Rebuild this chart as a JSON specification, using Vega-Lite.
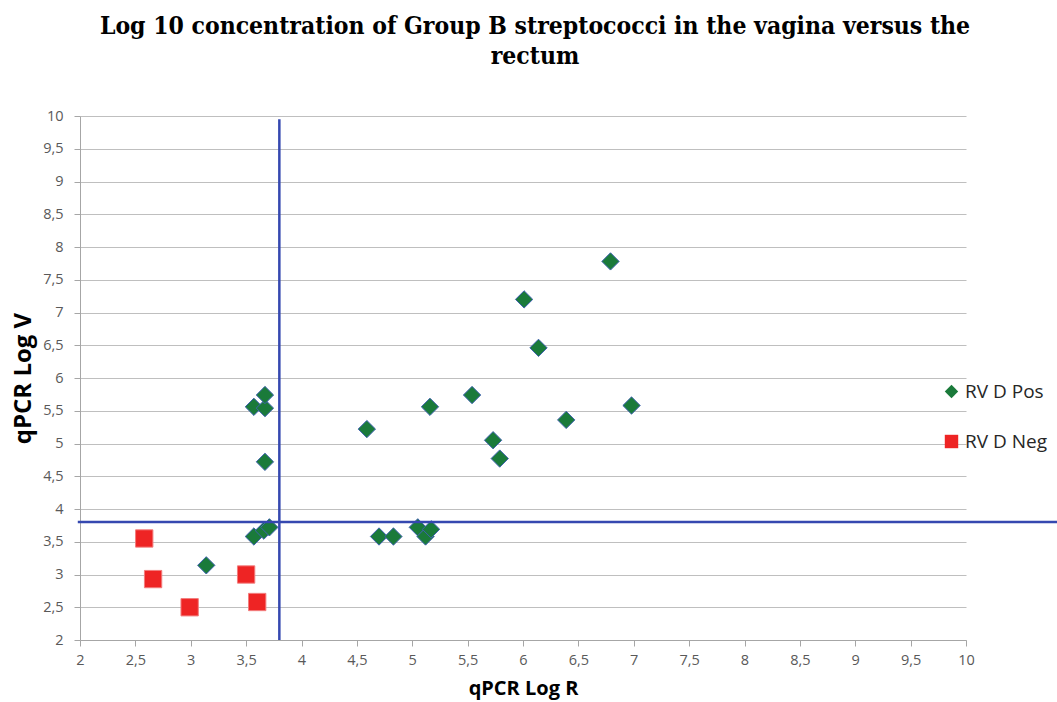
{
  "$schema": "https://vega.github.io/schema/vega-lite/v6.json",
  "autosize": {"type": "none"},
  "padding": {"left": 80, "top": 116, "right": 91, "bottom": 62},
  "width": 886,
  "height": 524,
  "background": "white",
  "title": {
    "text": ["Log 10 concentration of Group B streptococci in the vagina versus the", "rectum"],
    "font": "DejaVu Serif Condensed, DejaVu Serif",
    "fontSize": 24.5,
    "fontWeight": "bold",
    "color": "#000000",
    "lineHeight": 30,
    "anchor": "middle",
    "dx": 12,
    "offset": 39
  },
  "datasets": {
    "points": [
      {"R": 2.58, "V": 3.55, "series": "RV D Neg"},
      {"R": 2.66, "V": 2.93, "series": "RV D Neg"},
      {"R": 2.99, "V": 2.5, "series": "RV D Neg"},
      {"R": 3.5, "V": 3.0, "series": "RV D Neg"},
      {"R": 3.6, "V": 2.58, "series": "RV D Neg"},
      {"R": 3.14, "V": 3.14, "series": "RV D Pos"},
      {"R": 3.57, "V": 3.58, "series": "RV D Pos"},
      {"R": 3.66, "V": 3.67, "series": "RV D Pos"},
      {"R": 3.71, "V": 3.72, "series": "RV D Pos"},
      {"R": 3.67, "V": 4.72, "series": "RV D Pos"},
      {"R": 3.57, "V": 5.56, "series": "RV D Pos"},
      {"R": 3.67, "V": 5.54, "series": "RV D Pos"},
      {"R": 3.67, "V": 5.74, "series": "RV D Pos"},
      {"R": 4.59, "V": 5.22, "series": "RV D Pos"},
      {"R": 4.7, "V": 3.58, "series": "RV D Pos"},
      {"R": 4.83, "V": 3.58, "series": "RV D Pos"},
      {"R": 5.05, "V": 3.72, "series": "RV D Pos"},
      {"R": 5.12, "V": 3.58, "series": "RV D Pos"},
      {"R": 5.17, "V": 3.69, "series": "RV D Pos"},
      {"R": 5.16, "V": 5.56, "series": "RV D Pos"},
      {"R": 5.54, "V": 5.74, "series": "RV D Pos"},
      {"R": 5.73, "V": 5.05, "series": "RV D Pos"},
      {"R": 5.79, "V": 4.77, "series": "RV D Pos"},
      {"R": 6.01, "V": 7.2, "series": "RV D Pos"},
      {"R": 6.14, "V": 6.46, "series": "RV D Pos"},
      {"R": 6.39, "V": 5.36, "series": "RV D Pos"},
      {"R": 6.79, "V": 7.78, "series": "RV D Pos"},
      {"R": 6.98, "V": 5.58, "series": "RV D Pos"}
    ],
    "vline": [{"x": 3.8, "y": 2, "y2": 9.95}],
    "hline": [{"y": 3.8, "x": 1.98, "x2": 10.83}]
  },
  "layer": [
    {
      "data": {"name": "points"},
      "mark": {"type": "point", "filled": true, "opacity": 1, "size": 300, "strokeWidth": 1},
      "encoding": {
        "x": {
          "field": "R", "type": "quantitative", "title": "qPCR Log R",
          "scale": {"domain": [2, 10], "nice": false},
          "axis": {
            "values": [2, 2.5, 3, 3.5, 4, 4.5, 5, 5.5, 6, 6.5, 7, 7.5, 8, 8.5, 9, 9.5, 10],
            "tickCount": 20,
            "format": ".2~f",
            "grid": false,
            "labelOverlap": false,
            "labelFlush": false,
            "labelExpr": "replace(datum.label, '.', ',')",
            "labelPadding": 7,
            "titlePadding": 12,
            "titleFontSize": 20
          }
        },
        "y": {
          "field": "V", "type": "quantitative", "title": "qPCR Log V",
          "scale": {"domain": [2, 10], "nice": false},
          "axis": {
            "values": [2, 2.5, 3, 3.5, 4, 4.5, 5, 5.5, 6, 6.5, 7, 7.5, 8, 8.5, 9, 9.5, 10],
            "tickCount": 20,
            "format": ".2~f",
            "grid": true,
            "labelOverlap": false,
            "labelFlush": false,
            "labelExpr": "replace(datum.label, '.', ',')",
            "labelPadding": 11,
            "titlePadding": 7,
            "titleFontSize": 24
          }
        },
        "color": {
          "field": "series", "type": "nominal",
          "scale": {"domain": ["RV D Pos", "RV D Neg"], "range": ["#1a7a3a", "#ee2424"]},
          "legend": {
            "orient": "none", "legendX": 862, "legendY": 266, "title": null,
            "labelFontSize": 19, "labelFont": "Open Sans", "labelColor": "#262626",
            "symbolSize": 180, "rowPadding": 30, "labelOffset": 4, "symbolStrokeWidth": 0
          }
        },
        "shape": {
          "field": "series", "type": "nominal",
          "scale": {"domain": ["RV D Pos", "RV D Neg"], "range": ["diamond", "square"]}
        },
        "stroke": {
          "field": "series", "type": "nominal",
          "scale": {"domain": ["RV D Pos", "RV D Neg"], "range": ["#3f62b0", "#f27c7c"]}
        }
      }
    },
    {
      "data": {"name": "vline"},
      "mark": {"type": "rule", "color": "#3548b0", "strokeWidth": 2.5},
      "encoding": {
        "x": {"field": "x", "type": "quantitative"},
        "y": {"field": "y", "type": "quantitative"},
        "y2": {"field": "y2"}
      }
    },
    {
      "data": {"name": "hline"},
      "mark": {"type": "rule", "color": "#3548b0", "strokeWidth": 2.5, "clip": false},
      "encoding": {
        "x": {"field": "x", "type": "quantitative"},
        "x2": {"field": "x2"},
        "y": {"field": "y", "type": "quantitative"}
      }
    }
  ],
  "config": {
    "view": {"stroke": null},
    "axis": {
      "domainColor": "#a6a6a6",
      "tickColor": "#a6a6a6",
      "gridColor": "#bfbfbf",
      "gridWidth": 1.2,
      "tickSize": 6,
      "labelFont": "Open Sans",
      "labelFontSize": 14.5,
      "labelColor": "#595959",
      "titleFont": "Open Sans",
      "titleFontWeight": "bold",
      "titleColor": "#000000"
    }
  }
}
